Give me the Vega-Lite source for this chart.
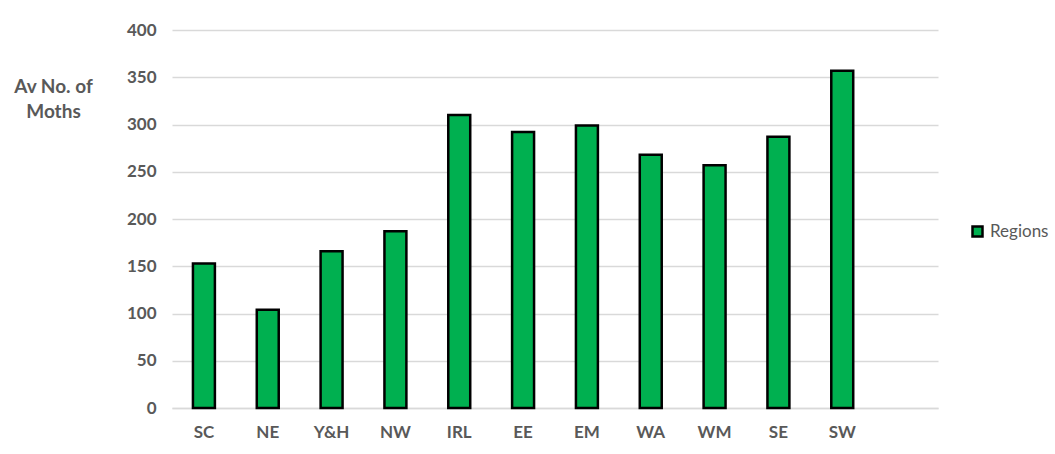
{
  "$schema": "https://vega.github.io/schema/vega-lite/v6.json",
  "width": 766,
  "height": 378,
  "autosize": {"type": "none"},
  "padding": {"left": 172, "top": 30, "right": 117, "bottom": 46},
  "background": "white",
  "data": {"values": [
    {"region": "SC", "moths": 153, "series": "Regions"},
    {"region": "NE", "moths": 104, "series": "Regions"},
    {"region": "Y&H", "moths": 166, "series": "Regions"},
    {"region": "NW", "moths": 187, "series": "Regions"},
    {"region": "IRL", "moths": 310, "series": "Regions"},
    {"region": "EE", "moths": 292, "series": "Regions"},
    {"region": "EM", "moths": 299, "series": "Regions"},
    {"region": "WA", "moths": 268, "series": "Regions"},
    {"region": "WM", "moths": 257, "series": "Regions"},
    {"region": "SE", "moths": 287, "series": "Regions"},
    {"region": "SW", "moths": 357, "series": "Regions"}
  ]},
  "mark": {"type": "bar", "stroke": "black", "strokeWidth": 2.5},
  "encoding": {
    "x": {
      "field": "region", "type": "nominal", "sort": null,
      "scale": {"domain": ["SC", "NE", "Y&H", "NW", "IRL", "EE", "EM", "WA", "WM", "SE", "SW", ""], "paddingInner": 0.656, "paddingOuter": 0.328},
      "axis": {
        "title": null, "labelAngle": 0, "ticks": false, "domainColor": "#d9d9d9", "domainWidth": 1.5,
        "labelFont": "Lato", "labelFontWeight": "bold", "labelFontSize": 17, "labelColor": "#595959", "labelPadding": 16
      }
    },
    "y": {
      "field": "moths", "type": "quantitative",
      "scale": {"domain": [0, 400], "nice": false},
      "axis": {
        "values": [0, 50, 100, 150, 200, 250, 300, 350, 400],
        "title": ["Av No. of", "Moths"], "titleAngle": 0, "titleX": -119, "titleY": 47, "titleAlign": "center", "titleBaseline": "top",
        "titleFont": "Lato", "titleFontWeight": "bold", "titleFontSize": 19, "titleColor": "#595959", "titleLineHeight": 25,
        "domain": false, "ticks": false, "gridColor": "#d9d9d9", "gridWidth": 1.5,
        "labelFont": "Lato", "labelFontWeight": "bold", "labelFontSize": 17, "labelColor": "#595959", "labelPadding": 16
      }
    },
    "color": {
      "field": "series", "type": "nominal",
      "scale": {"range": ["#00b050"]},
      "legend": {
        "title": null, "orient": "none", "legendX": 797, "legendY": 193,
        "symbolType": "square", "symbolSize": 100, "symbolStrokeColor": "black", "symbolStrokeWidth": 2.5,
        "labelFont": "Lato", "labelFontSize": 17, "labelColor": "#595959", "labelOffset": 4
      }
    }
  },
  "config": {"view": {"stroke": null}}
}
